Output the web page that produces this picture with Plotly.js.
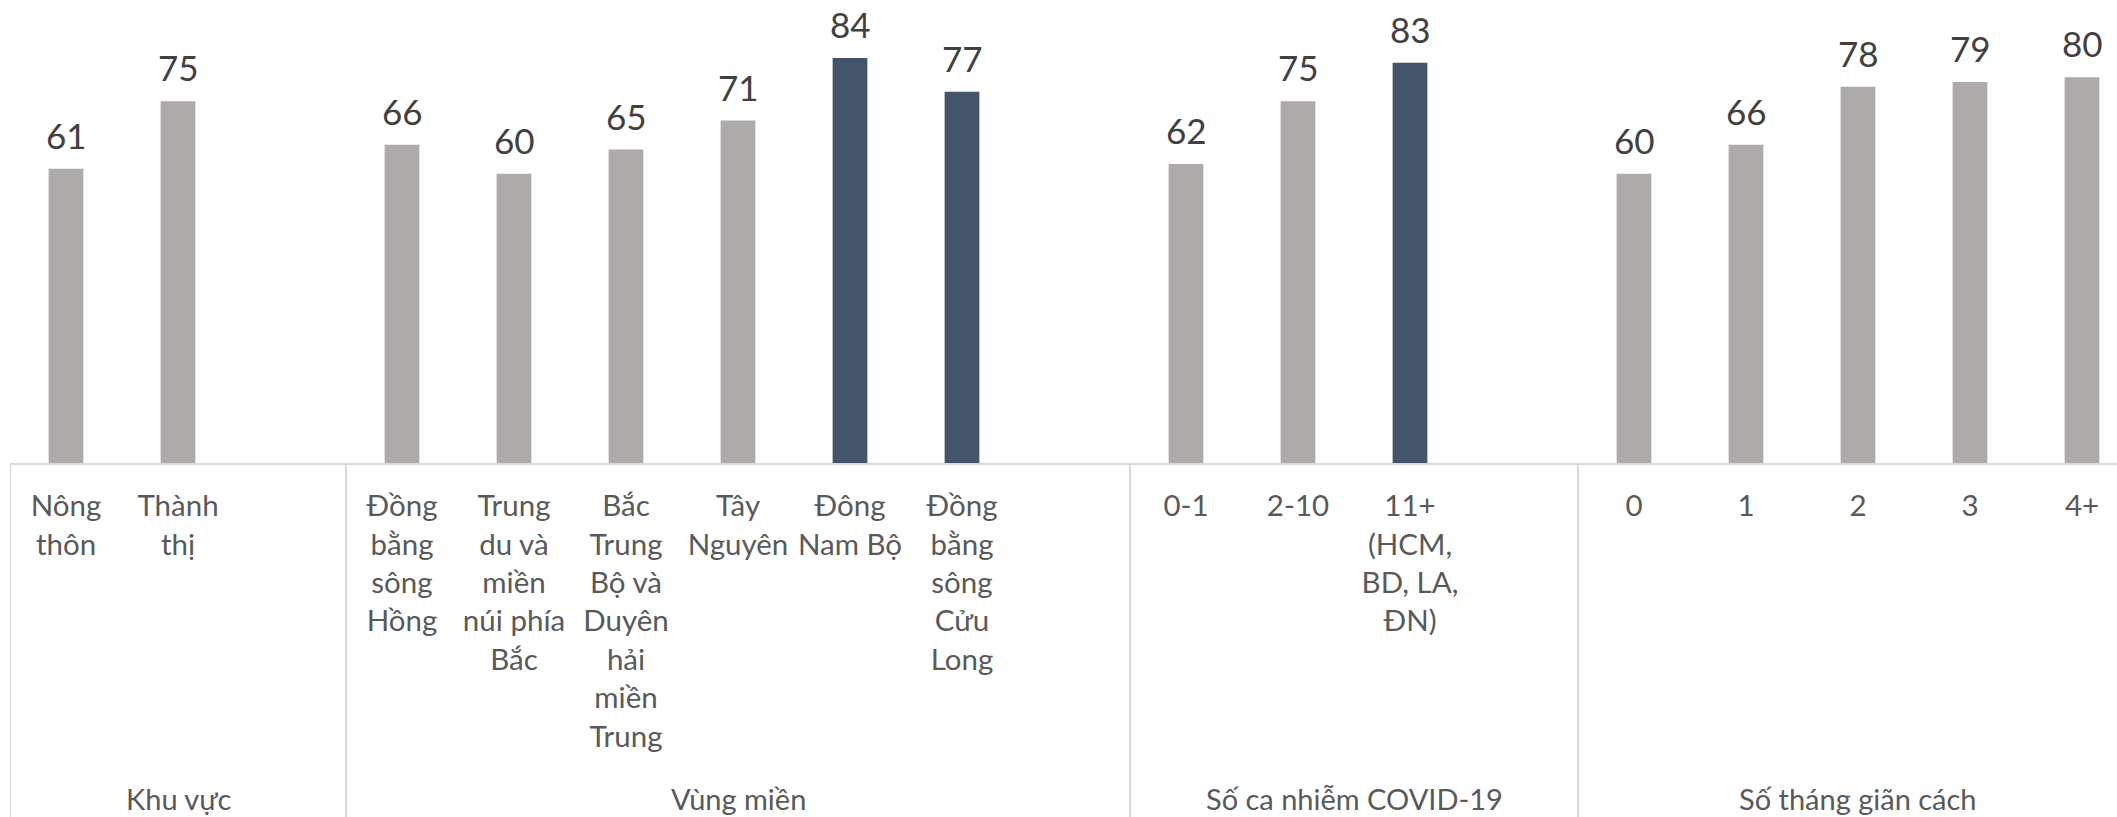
<!DOCTYPE html>
<html>
<head>
<meta charset="utf-8">
<script src="https://cdn.plot.ly/plotly-3.0.1.min.js"></script>
<style>html,body{margin:0;padding:0;background:#fff;}#chart{width:2117px;height:817px;}</style>
</head>
<body>
<div id="chart"></div>
<script>
// ---- data ----
const groupNames = ["Khu vực", "Vùng miền", "Số ca nhiễm COVID-19", "Số tháng giãn cách"];
const groupSizes = [2, 6, 3, 5];
const categories = [
  "Nông<br>thôn", "Thành<br>thị",
  "Đồng<br>bằng<br>sông<br>Hồng", "Trung<br>du và<br>miền<br>núi phía<br>Bắc",
  "Bắc<br>Trung<br>Bộ và<br>Duyên<br>hải<br>miền<br>Trung", "Tây<br>Nguyên",
  "Đông<br>Nam Bộ", "Đồng<br>bằng<br>sông<br>Cửu<br>Long",
  "0-1", "2-10", "11+<br>(HCM,<br>BD, LA,<br>ĐN)",
  "0", "1", "2", "3", "4+"
];
const values = [61, 75, 66, 60, 65, 71, 84, 77, 62, 75, 83, 60, 66, 78, 79, 80];
const highlighted = ["Đông<br>Nam Bộ", "Đồng<br>bằng<br>sông<br>Cửu<br>Long", "11+<br>(HCM,<br>BD, LA,<br>ĐN)"];

// ---- styles ----
const GRAY = "#AEAAAA", DARK = "#44546A", LINE = "#D9D9D9";
const FONT = "Lato, 'Open Sans', sans-serif";

// positions: one empty slot after each group (the gap slot belongs to the group)
const xs = [], boundaries = [-0.5], groupCenters = [];
let pos = 0;
groupSizes.forEach((n, g) => {
  const start = pos;
  for (let i = 0; i < n; i++) { xs.push(pos); pos++; }
  const last = (g < groupSizes.length - 1) ? pos : pos - 1;
  groupCenters.push((start + last) / 2);
  if (g < groupSizes.length - 1) { pos++; boundaries.push(pos - 0.5); }
});

const colors = categories.map(c => highlighted.includes(c) ? DARK : GRAY);

const trace = {
  type: "bar", x: xs, y: values, width: 0.31,
  marker: {color: colors, line: {width: 0}},
  hoverinfo: "skip"
};

const annotations = [];
xs.forEach((x, i) => annotations.push({
  x: x, y: values[i], xref: "x", yref: "y", text: String(values[i]),
  showarrow: false, yanchor: "bottom", yshift: 11,
  font: {family: FONT, size: 35, color: "#404040"}
}));
groupNames.forEach((g, i) => annotations.push({
  x: groupCenters[i], y: -0.727, xref: "x", yref: "paper", text: g,
  showarrow: false, yanchor: "top",
  font: {family: FONT, size: 29, color: "#595959"}
}));

const shapes = boundaries.map(b => ({
  type: "line", xref: "x", yref: "paper", x0: b, x1: b, y0: 0, y1: -0.82,
  line: {color: LINE, width: 2}, layer: "below"
}));

const layout = {
  width: 2117, height: 817,
  margin: {l: 10, r: 0, t: 29, b: 354},
  paper_bgcolor: "#fff", plot_bgcolor: "#fff",
  showlegend: false,
  xaxis: {
    range: [-0.5, 18.3125], tickvals: xs, ticktext: categories,
    ticks: "", showgrid: false, zeroline: false,
    showline: true, linecolor: LINE, linewidth: 2,
    tickfont: {family: FONT, size: 29.5, color: "#595959"},
    tickangle: 0, ticklabelstandoff: 16, fixedrange: true
  },
  yaxis: {range: [0, 90], visible: false, fixedrange: true},
  annotations: annotations,
  shapes: shapes
};

Plotly.newPlot("chart", [trace], layout, {displayModeBar: false, staticPlot: true});
</script>
</body>
</html>
